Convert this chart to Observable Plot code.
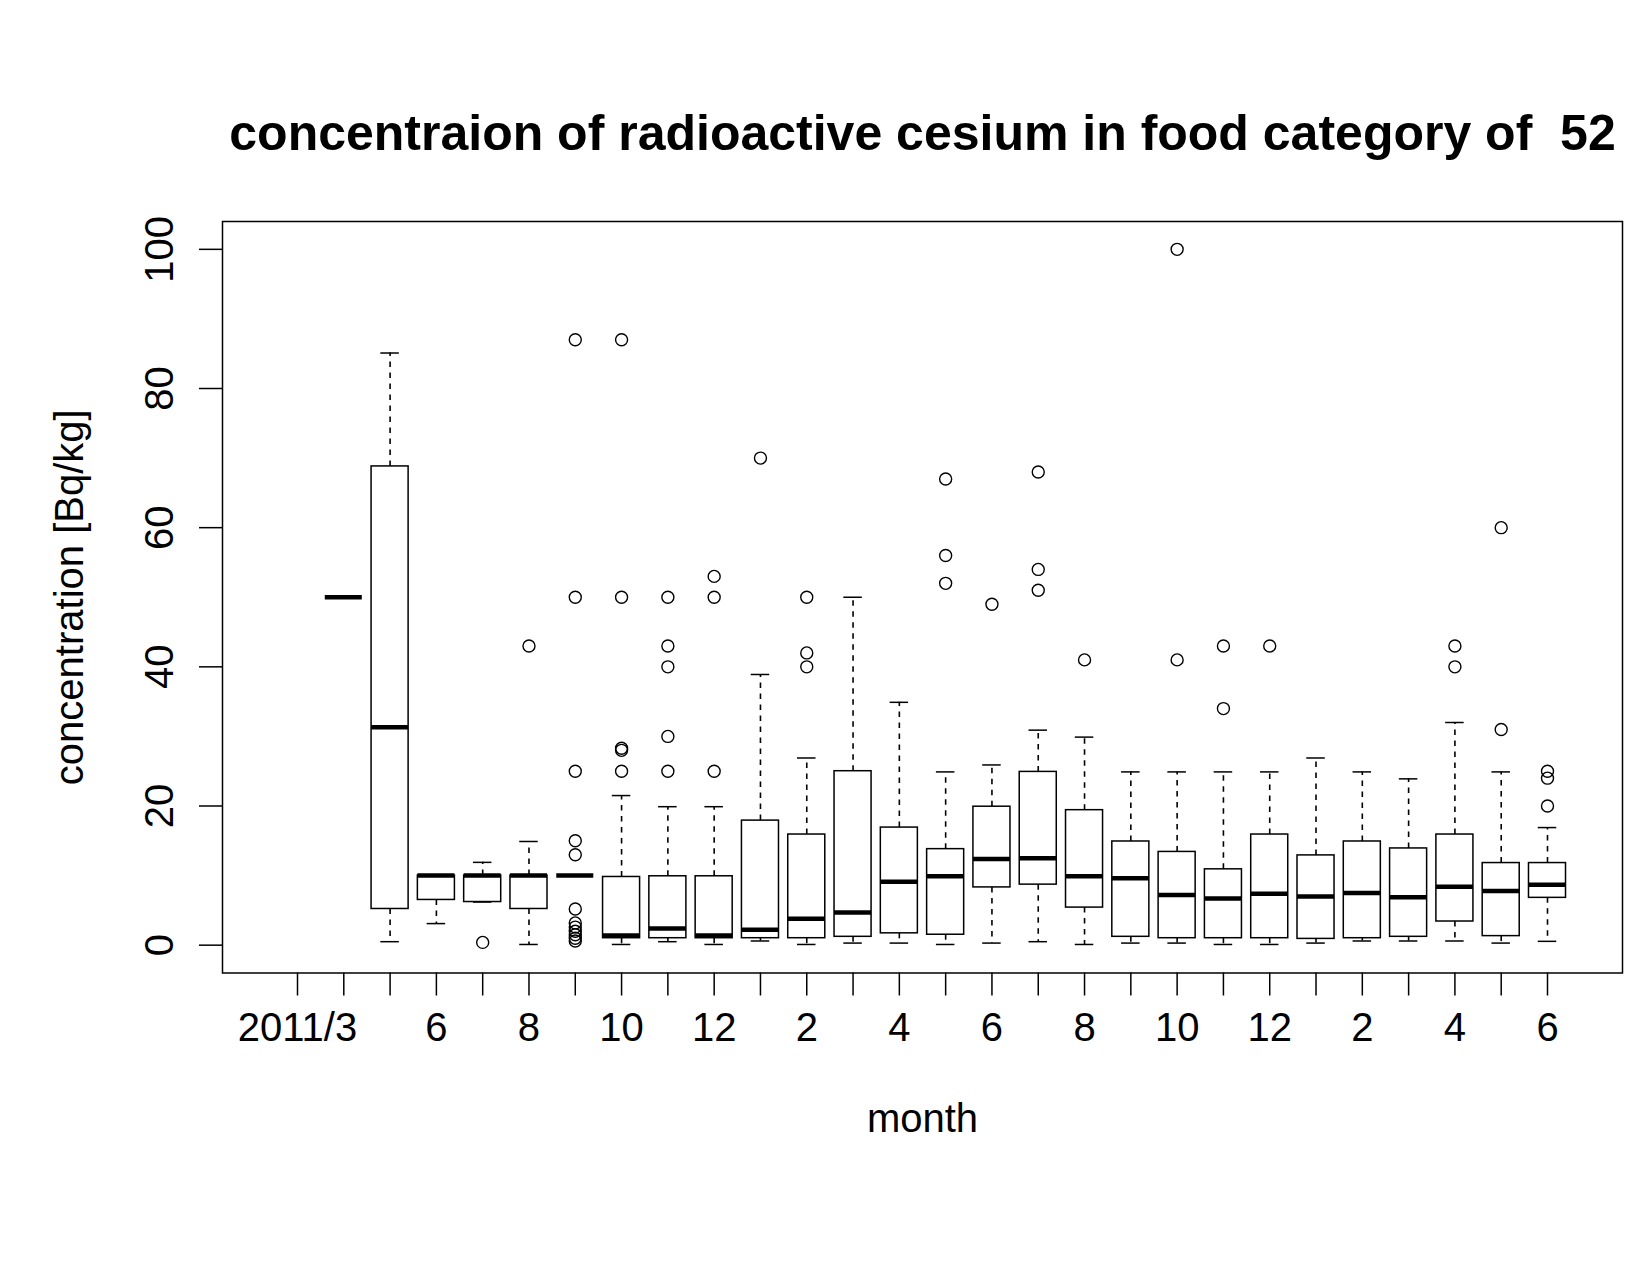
<!DOCTYPE html>
<html>
<head>
<meta charset="utf-8">
<script src="https://cdn.jsdelivr.net/npm/d3@7"></script>
<script src="https://cdn.jsdelivr.net/npm/@observablehq/plot@0.6"></script>
<style>
  html, body { margin: 0; padding: 0; background: #fff; }
  #chart svg { display: block; }
</style>
</head>
<body>
<div id="chart"></div>
<script>
// ---- data ----
const title = "concentraion of radioactive cesium in food category of  52";
const xLabel = "month";
const yLabel = "concentration [Bq/kg]";

const months = [
  "2011/3","2011/4","2011/5","2011/6","2011/7","2011/8","2011/9","2011/10","2011/11","2011/12",
  "2012/1","2012/2","2012/3","2012/4","2012/5","2012/6","2012/7","2012/8","2012/9","2012/10",
  "2012/11","2012/12","2013/1","2013/2","2013/3","2013/4","2013/5","2013/6"
];
const tickLabels = [
  "2011/3","","","6","","8","","10","","12",
  "","2","","4","","6","","8","","10",
  "","12","","2","","4","","6"
];
const yTicks = [0, 20, 40, 60, 80, 100];

const lowWhisker  = [null, 50, 0.5, 3.1, 6.2, 0.1, 10, 0.1, 0.5, 0.1, 0.6, 0.1, 0.3, 0.3, 0.1, 0.3, 0.5, 0.1, 0.3, 0.3, 0.1, 0.1, 0.3, 0.6, 0.6, 0.6, 0.3, 0.55];
const q1          = [null, 50, 5.2, 6.5, 6.2, 5.2, 10, 1.0, 1.0, 1.0, 1.0, 1.0, 1.2, 1.7, 1.5, 8.3, 8.7, 5.4, 1.2, 1.0, 1.0, 1.0, 0.9, 1.0, 1.2, 3.4, 1.3, 6.8];
const median      = [null, 50, 31.3, 10, 10, 10, 10, 1.4, 2.4, 1.4, 2.2, 3.8, 4.7, 9.1, 9.9, 12.4, 12.5, 9.9, 9.6, 7.2, 6.7, 7.4, 7.0, 7.5, 6.9, 8.4, 7.8, 8.7];
const q3          = [null, 50, 68.8, 10, 10, 10, 10, 9.8, 9.9, 9.9, 17.9, 15.9, 25, 16.9, 13.8, 19.9, 24.9, 19.4, 14.9, 13.4, 10.9, 15.9, 12.9, 14.9, 13.9, 15.9, 11.8, 11.8];
const highWhisker = [null, 50, 85.1, 10, 11.9, 14.9, 10, 21.5, 19.9, 19.9, 38.9, 26.9, 50, 34.9, 24.9, 25.9, 30.9, 29.9, 24.9, 24.9, 24.9, 24.9, 26.9, 24.9, 23.9, 32, 24.9, 16.9];
const outliers = [
  [], [], [], [], [0.4], [43],
  [87, 50, 25, 15, 13, 5.2, 3.2, 2.6, 2.0, 1.5, 1.0, 0.6],
  [87, 50, 28.3, 28.0, 25],
  [50, 43, 40, 30, 25],
  [53, 50, 25],
  [70],
  [50, 42, 40],
  [], [],
  [67, 56, 52],
  [49],
  [68, 54, 51],
  [41],
  [],
  [100, 41],
  [43, 34],
  [43],
  [], [],
  [],
  [43, 40],
  [60, 31],
  [25, 24, 20]
];

// ---- derived tables ----
const positions = months.map((_, i) => i + 1);
const boxes = months
  .map((m, i) => ({pos: i + 1, month: m, low: lowWhisker[i], q1: q1[i], median: median[i], q3: q3[i], high: highWhisker[i]}))
  .filter(d => d.median != null);
const outlierRows = outliers.flatMap((vals, i) => vals.map(v => ({pos: i + 1, value: v})));

const BOX_HALF = 0.4;   // boxwex 0.8
const CAP_HALF = 0.2;   // staplewex 0.5
const ink = "black";

const chart = Plot.plot({
  width: 1650,
  height: 1275,
  marginTop: 221,
  marginBottom: 302.5,
  marginLeft: 222,
  marginRight: 28,
  style: "font-family: 'Liberation Sans', Arial, Helvetica, sans-serif; font-size: 40px; background: white; color: black;",
  x: {type: "linear", domain: [-0.62, 29.62]},
  y: {type: "linear", domain: [-4, 104]},
  marks: [
    // whiskers (dashed)
    Plot.ruleX(boxes, {x: "pos", y1: "q3", y2: "high", stroke: ink, strokeWidth: 1.6, strokeDasharray: "5.5,5.5"}),
    Plot.ruleX(boxes, {x: "pos", y1: "q1", y2: "low", stroke: ink, strokeWidth: 1.6, strokeDasharray: "5.5,5.5"}),
    // staples
    Plot.ruleY(boxes, {y: "high", x1: d => d.pos - CAP_HALF, x2: d => d.pos + CAP_HALF, stroke: ink, strokeWidth: 1.5}),
    Plot.ruleY(boxes, {y: "low", x1: d => d.pos - CAP_HALF, x2: d => d.pos + CAP_HALF, stroke: ink, strokeWidth: 1.5}),
    // boxes
    Plot.rect(boxes, {x1: d => d.pos - BOX_HALF, x2: d => d.pos + BOX_HALF, y1: "q1", y2: "q3", fill: "none", stroke: ink, strokeWidth: 1.5}),
    // medians
    Plot.ruleY(boxes, {y: "median", x1: d => d.pos - BOX_HALF, x2: d => d.pos + BOX_HALF, stroke: ink, strokeWidth: 4.5}),
    // outliers
    Plot.dot(outlierRows, {x: "pos", y: "value", r: 6, stroke: ink, strokeWidth: 1.4, fill: "none"}),
    Plot.frame({stroke: ink, strokeWidth: 1.5}),
    Plot.axisY({ticks: yTicks, tickSize: 23, tickPadding: 27, tickRotate: -90, tickFormat: d => String(d), label: null, stroke: ink, strokeWidth: 1.5, fill: ink}),
    Plot.axisX({ticks: positions, tickSize: 23, tickPadding: 17, tickFormat: p => tickLabels[p - 1], label: null, stroke: ink, strokeWidth: 1.5, fill: ink}),
    Plot.text([title], {frameAnchor: "top", dy: -72, lineAnchor: "bottom", textAnchor: "middle", fontSize: 50, fontWeight: "bold", fill: ink}),
    Plot.text([yLabel], {frameAnchor: "left", dx: -140, rotate: -90, lineAnchor: "bottom", textAnchor: "middle", fill: ink}),
    Plot.text([xLabel], {frameAnchor: "bottom", dy: 159, lineAnchor: "bottom", textAnchor: "middle", fill: ink})
  ]
});
document.getElementById("chart").appendChild(chart);
</script>
</body>
</html>
